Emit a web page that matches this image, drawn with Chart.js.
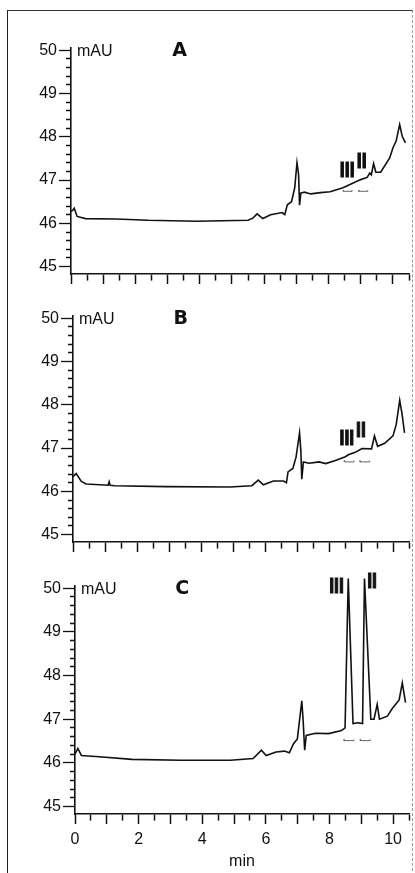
<!DOCTYPE html>
<html>
<head>
<meta charset="utf-8">
<script src="https://cdn.jsdelivr.net/npm/chart.js@4.4.1/dist/chart.umd.min.js"></script>
<style>
  html, body { margin: 0; padding: 0; background: #fff; }
  body { width: 415px; height: 873px; position: relative; overflow: hidden; }
  .frame { position: absolute; left: 7px; top: 10px; width: 404px; height: 880px;
           border-left: 1.5px solid #222; border-top: 1.5px solid #333; border-right: 1px dashed #999; }
  .panel { position: absolute; left: 0; width: 415px; }
</style>
</head>
<body>
<div class="frame"></div>
<div class="panel" style="top:0px;height:290px"><canvas id="chartA"></canvas></div>
<div class="panel" style="top:290px;height:268px"><canvas id="chartB"></canvas></div>
<div class="panel" style="top:558px;height:315px"><canvas id="chartC"></canvas></div>
<script>
// retention time (min) and absorbance (mAU)
const timeA = [0, 0.05, 0.1, 0.19, 0.45, 1.4, 2.4, 3.9, 5.5, 5.65, 5.78, 5.96, 6.2, 6.56, 6.64, 6.72, 6.85, 6.95, 7.02, 7.07, 7.1, 7.14, 7.25, 7.45, 7.75, 8.05, 8.45, 8.7, 9.0, 9.2, 9.28, 9.33, 9.4, 9.47, 9.62, 9.9, 10.0, 10.1, 10.21, 10.29, 10.39];
const valueA = [46.28, 46.3, 46.35, 46.16, 46.11, 46.1, 46.07, 46.05, 46.07, 46.12, 46.22, 46.11, 46.2, 46.25, 46.2, 46.43, 46.5, 46.82, 47.4, 47.13, 46.42, 46.7, 46.72, 46.68, 46.71, 46.73, 46.82, 46.91, 47.01, 47.06, 47.16, 47.12, 47.38, 47.18, 47.18, 47.51, 47.74, 47.9, 48.28, 48.01, 47.86];

const timeB = [0, 0.1, 0.26, 0.41, 1.1, 1.13, 1.16, 1.3, 2.9, 4.9, 5.59, 5.79, 5.95, 6.26, 6.58, 6.67, 6.72, 6.87, 6.97, 7.08, 7.12, 7.15, 7.2, 7.38, 7.69, 7.9, 8.2, 8.51, 8.62, 8.82, 9.03, 9.33, 9.42, 9.52, 9.74, 10.0, 10.1, 10.21, 10.28, 10.36];
const valueB = [46.34, 46.41, 46.23, 46.17, 46.14, 46.22, 46.14, 46.13, 46.11, 46.1, 46.13, 46.26, 46.15, 46.24, 46.24, 46.2, 46.45, 46.53, 46.79, 47.35, 46.94, 46.28, 46.68, 46.65, 46.68, 46.64, 46.71, 46.8, 46.85, 46.9, 46.99, 46.98, 47.28, 47.04, 47.11, 47.28, 47.54, 48.1, 47.8, 47.35];

const timeC = [0, 0.09, 0.2, 0.76, 1.79, 3.34, 4.88, 5.6, 5.86, 6.01, 6.32, 6.58, 6.74, 6.87, 6.99, 7.13, 7.17, 7.22, 7.27, 7.56, 7.97, 8.38, 8.49, 8.59, 8.74, 8.9, 9.04, 9.1, 9.3, 9.4, 9.5, 9.57, 9.82, 9.98, 10.19, 10.29, 10.39];
const valueC = [46.2, 46.33, 46.17, 46.14, 46.08, 46.06, 46.06, 46.1, 46.29, 46.17, 46.25, 46.27, 46.23, 46.44, 46.55, 47.42, 47.0, 46.29, 46.63, 46.68, 46.67, 46.74, 46.8, 50.22, 46.9, 46.92, 46.9, 50.22, 47.0, 47.0, 47.34, 47.0, 47.07, 47.25, 47.44, 47.83, 47.38];

// integration windows for peaks III and II
const windowsA = [[8.46, 8.73], [8.94, 9.22]];
const windowsB = [[8.48, 8.78], [8.97, 9.27]];
const windowsC = [[8.46, 8.77], [8.97, 9.28]];
const windowLevel = { A: 46.74, B: 46.68, C: 46.51 };

// tick labels
const yLabels = [45, 46, 47, 48, 49, 50];
const xLabels = [0, 2, 4, 6, 8, 10];

const yTickValues = [];
for (let v = 45; v <= 50.001; v += 0.2) yTickValues.push(+v.toFixed(1));
const xTickValues = [];
for (let v = 0; v <= 10.501; v += 0.5) xTickValues.push(+v.toFixed(1));

const FONT = '"Liberation Sans", Arial, sans-serif';
const INK = '#111';

function toPoints(ts, vs) {
  return ts.map((t, i) => ({ x: t, y: vs[i] }));
}

function windowPoints(wins, lvl) {
  const pts = [];
  wins.forEach(([s, e]) => {
    pts.push({ x: s, y: lvl + 0.03 }, { x: s, y: lvl }, { x: e, y: lvl }, { x: e, y: lvl + 0.03 }, { x: e, y: null });
  });
  return pts;
}

const panelText = {
  id: 'panelText',
  afterDatasetsDraw(chart, args, opts) {
    const { ctx, chartArea } = chart;
    const x = chart.scales.x, y = chart.scales.y;
    ctx.save();
    ctx.fillStyle = INK;
    ctx.textBaseline = 'middle';
    ctx.font = '16px ' + FONT;
    ctx.textAlign = 'left';
    ctx.fillText('mAU', chartArea.left + 6, y.getPixelForValue(50) + 1);
    ctx.font = 'bold 19px "DejaVu Sans", sans-serif';
    ctx.textAlign = 'center';
    ctx.fillText(opts.letter, x.getPixelForValue(3.37), y.getPixelForValue(50) + 1);
    // peak names
    ctx.textBaseline = 'alphabetic';
    ctx.font = 'bold 22px ' + FONT;
    ctx.strokeStyle = INK;
    ctx.lineWidth = 1.2;
    opts.marks.forEach(m => {
      ctx.save();
      ctx.translate(x.getPixelForValue(m.t), y.getPixelForValue(m.v));
      ctx.scale(0.8, 1);
      ctx.fillText(m.text, 0, 0);
      ctx.strokeText(m.text, 0, 0);
      ctx.restore();
    });
    ctx.restore();
  }
};

function makeChart(id, trace, wins, cfg) {
  return new Chart(document.getElementById(id), {
    type: 'line',
    data: {
      datasets: [
        { data: trace, borderColor: INK, borderWidth: 1.6, pointRadius: 0, tension: 0, clip: false },
        { data: wins, borderColor: '#666', borderWidth: 1, pointRadius: 0, tension: 0, spanGaps: false }
      ]
    },
    options: {
      responsive: true,
      maintainAspectRatio: false,
      animation: false,
      layout: { padding: { top: cfg.top, right: cfg.right, left: 0, bottom: 0 } },
      plugins: {
        legend: { display: false },
        tooltip: { enabled: false },
        panelText: { letter: cfg.letter, marks: cfg.marks }
      },
      scales: {
        x: {
          type: 'linear', min: 0, max: 10.5,
          afterBuildTicks: s => { s.ticks = xTickValues.map(v => ({ value: v })); },
          afterFit: s => { s.height = cfg.xHeight; },
          border: { display: true, color: INK, width: 1.6 },
          grid: {
            drawOnChartArea: false, tickLength: 10, tickColor: INK, tickWidth: 1.5,
            tickBorderDash: c => (c.tick && Number.isInteger(c.tick.value)) ? [] : [6, 100]
          },
          ticks: {
            autoSkip: false, maxRotation: 0, padding: 6, color: INK,
            font: { family: FONT, size: 16 },
            callback: v => (cfg.showX && xLabels.includes(v)) ? String(v) : ''
          },
          title: {
            display: cfg.showX, text: 'min', color: INK,
            font: { family: FONT, size: 16 }, padding: { top: 0, bottom: 2 }
          }
        },
        y: {
          type: 'linear', min: 44.83, max: 50.05,
          afterBuildTicks: s => { s.ticks = yTickValues.map(v => ({ value: v })); },
          afterFit: s => { s.width = cfg.left; },
          border: { display: true, color: INK, width: 1.6 },
          grid: {
            drawOnChartArea: false, tickLength: 12, tickColor: INK, tickWidth: 1.3,
            tickBorderDash: c => (c.tick && Number.isInteger(c.tick.value)) ? [] : [0, 7, 5, 100]
          },
          ticks: {
            autoSkip: false, padding: 2, color: INK,
            font: { family: FONT, size: 16 },
            callback: v => yLabels.includes(v) ? String(v) : ''
          }
        }
      }
    },
    plugins: [panelText]
  });
}

makeChart('chartA', toPoints(timeA, valueA), windowPoints(windowsA, windowLevel.A), {
  letter: 'A', top: 48, right: 4, left: 71, xHeight: 16, showX: false,
  marks: [{ text: 'III', t: 8.58, v: 47.06 }, { text: 'II', t: 9.03, v: 47.27 }]
});
makeChart('chartB', toPoints(timeB, valueB), windowPoints(windowsB, windowLevel.B), {
  letter: 'B', top: 26, right: 2, left: 73, xHeight: 16, showX: false,
  marks: [{ text: 'III', t: 8.56, v: 47.07 }, { text: 'II', t: 9.0, v: 47.26 }]
});
makeChart('chartC', toPoints(timeC, valueC), windowPoints(windowsC, windowLevel.C), {
  letter: 'C', top: 28, right: 0, left: 75, xHeight: 59, showX: true,
  marks: [{ text: 'III', t: 8.22, v: 49.89 }, { text: 'II', t: 9.34, v: 50.0 }]
});
</script>
</body>
</html>
